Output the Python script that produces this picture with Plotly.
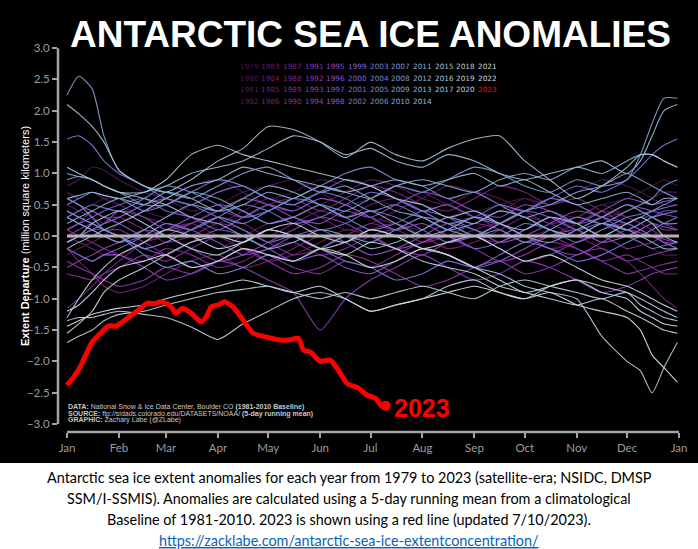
import plotly.graph_objects as go
from plotly.colors import sample_colorscale

# sampling days (day of year) shared by the historical years
days = [0, 7, 15, 22, 31, 46, 59, 74, 90, 105, 120, 135, 151, 166, 181, 196,
        212, 227, 243, 258, 273, 288, 304, 319, 334, 342, 349, 356, 364]

month_ticks = [0, 31, 59, 90, 120, 151, 181, 212, 243, 273, 304, 334, 365]
month_labels = ["Jan", "Feb", "Mar", "Apr", "May", "Jun", "Jul", "Aug", "Sep",
                "Oct", "Nov", "Dec", "Jan"]
y_ticks = [-3.0, -2.5, -2.0, -1.5, -1.0, -0.5, 0.0, 0.5, 1.0, 1.5, 2.0, 2.5, 3.0]
years = list(range(1979, 2023))

# extent anomalies (million km^2)
y1979 = [0.3, 0.4, 0.5, 0.6, 0.6, 0.4, 0.3, 0.5, 0.7, 0.8, 0.6, 0.7, 0.9, 0.8, 0.6, 0.5, 0.7, 0.6, 0.4, 0.5, 0.6, 0.4, 0.3, 0.5, 0.6, 0.7, 0.8, 0.9, 0.8]
y1980 = [0.8, 0.9, 1.1, 1.05, 0.9, 0.7, 0.6, 0.4, 0.5, 0.7, 0.8, 0.9, 0.7, 0.5, 0.6, 0.8, 0.7, 0.5, 0.3, 0.4, 0.6, 0.5, 0.7, 0.9, 0.8, 0.7, 0.6, 0.5, 0.5]
y1981 = [0.5, 0.4, 0.3, 0.2, 0.3, 0.5, 0.6, 0.8, 0.9, 0.7, 0.5, 0.4, 0.6, 0.5, 0.3, 0.2, 0.1, 0.3, 0.4, 0.2, 0.0, 0.1, 0.3, 0.2, 0.0, -0.1, -0.2, -0.3, -0.3]
y1982 = [-0.3, -0.2, -0.1, 0.0, 0.2, 0.4, 0.5, 0.3, 0.2, 0.4, 0.6, 0.5, 0.3, 0.1, 0.2, 0.4, 0.6, 0.8, 0.7, 0.5, 0.4, 0.6, 0.5, 0.3, 0.4, 0.5, 0.6, 0.7, 0.7]
y1983 = [0.7, 0.6, 0.7, 0.6, 0.5, 0.3, 0.2, 0.0, -0.2, 0.0, 0.2, 0.3, 0.5, 0.7, 0.9, 0.8, 0.6, 0.5, 0.7, 0.6, 0.4, 0.2, 0.3, 0.5, 0.3, 0.2, 0.1, 0.0, 0.0]
y1984 = [0.0, -0.1, -0.2, -0.3, -0.3, -0.1, 0.1, 0.2, 0.0, -0.2, -0.4, -0.3, -0.1, 0.1, 0.0, -0.2, -0.3, -0.1, 0.1, 0.2, 0.0, -0.2, -0.1, 0.1, 0.2, 0.1, 0.0, -0.1, -0.1]
y1985 = [-0.1, 0.0, 0.1, 0.1, 0.0, -0.2, -0.1, 0.1, 0.3, 0.2, 0.0, 0.2, 0.4, 0.3, 0.5, 0.6, 0.4, 0.2, 0.3, 0.1, -0.1, 0.0, 0.2, 0.4, 0.3, 0.2, 0.1, -0.1, -0.2]
y1986 = [-0.2, -0.4, -0.6, -0.8, -0.9, -0.8, -0.6, -0.4, -0.3, -0.5, -0.4, -0.2, 0.0, -0.1, 0.1, 0.2, 0.0, -0.2, -0.1, 0.1, 0.3, 0.2, 0.0, -0.2, -0.4, -0.6, -0.8, -1.0, -1.15]
y1987 = [-1.15, -1.0, -0.8, -0.6, -0.4, -0.1, 0.0, 0.2, 0.4, 0.3, 0.5, 0.6, 0.4, 0.6, 0.8, 0.7, 0.5, 0.4, 0.6, 0.8, 0.7, 0.5, 0.6, 0.4, 0.2, 0.3, 0.3, 0.2, 0.1]
y1988 = [0.1, 0.2, 0.4, 0.3, 0.3, 0.1, -0.1, 0.0, 0.2, 0.1, -0.1, -0.3, -0.2, 0.0, 0.2, 0.1, 0.3, 0.2, 0.0, -0.1, 0.1, 0.3, 0.1, -0.1, 0.0, 0.1, 0.2, 0.1, 0.1]
y1989 = [0.1, 0.0, -0.1, -0.2, -0.3, -0.4, -0.2, -0.3, -0.5, -0.4, -0.2, -0.1, -0.3, -0.2, 0.0, 0.1, -0.1, 0.0, 0.2, 0.1, -0.1, 0.0, -0.2, -0.4, -0.3, -0.4, -0.5, -0.6, -0.6]
y1990 = [-0.6, -0.65, -0.7, -0.6, -0.5, -0.3, -0.4, -0.2, 0.0, -0.1, 0.1, 0.0, -0.2, -0.1, 0.0, -0.2, -0.3, -0.1, 0.0, -0.2, -0.4, -0.3, -0.1, 0.0, -0.2, -0.15, -0.1, 0.0, 0.0]
y1991 = [0.0, 0.1, 0.2, 0.1, 0.1, -0.1, -0.3, -0.5, -0.4, -0.2, -0.3, -0.5, -0.6, -0.4, -0.5, -0.3, -0.1, 0.0, -0.2, -0.4, -0.3, -0.1, -0.2, -0.4, -0.6, -0.55, -0.5, -0.45, -0.4]
y1992 = [-0.4, -0.5, -0.6, -0.7, -0.8, -0.7, -0.5, -0.6, -0.4, -0.2, -0.4, -0.6, -0.5, -0.3, -0.4, -0.6, -0.8, -0.7, -0.5, -0.4, -0.6, -0.5, -0.3, -0.2, -0.4, -0.35, -0.3, -0.25, -0.2]
y1993 = [-0.2, -0.3, -0.4, -0.3, -0.3, -0.5, -0.7, -0.6, -0.4, -0.5, -0.7, -0.9, -1.5, -1.0, -0.7, -0.5, -0.3, -0.5, -0.7, -0.6, -0.4, -0.5, -0.7, -0.9, -0.8, -0.7, -0.6, -0.55, -0.5]
y1994 = [-0.5, -0.4, -0.3, -0.2, -0.1, 0.1, 0.0, -0.2, -0.4, -0.3, -0.1, 0.1, 0.3, 0.2, 0.0, -0.2, -0.1, 0.1, 0.3, 0.2, 0.0, -0.2, -0.3, -0.1, 0.1, 0.05, 0.0, -0.05, -0.1]
y1995 = [-0.1, 0.0, 0.1, 0.2, 0.4, 0.3, 0.1, 0.2, 0.4, 0.6, 0.5, 0.3, 0.2, 0.4, 0.3, 0.5, 0.7, 0.6, 0.4, 0.3, 0.5, 0.4, 0.2, 0.3, 0.5, 0.45, 0.4, 0.35, 0.3]
y1996 = [0.3, 0.2, 0.1, 0.0, -0.1, 0.0, 0.2, 0.1, -0.1, -0.3, -0.2, 0.0, 0.1, -0.1, -0.3, -0.2, 0.0, 0.2, 0.1, -0.1, 0.0, 0.2, 0.4, 0.3, 0.1, 0.2, 0.3, 0.4, 0.4]
y1997 = [0.4, 0.3, 0.2, 0.1, 0.0, -0.2, -0.3, -0.1, 0.1, 0.0, -0.2, -0.4, -0.3, -0.5, -0.6, -0.4, -0.2, -0.3, -0.5, -0.4, -0.2, 0.0, 0.1, -0.1, 0.0, 0.1, 0.2, 0.15, 0.1]
y1998 = [0.1, 0.2, 0.3, 0.4, 0.5, 0.6, 0.4, 0.3, 0.1, 0.3, 0.5, 0.4, 0.6, 0.5, 0.3, 0.1, 0.2, 0.0, -0.2, -0.1, 0.1, 0.3, 0.2, 0.4, 0.6, 0.55, 0.5, 0.55, 0.6]
y1999 = [0.6, 0.5, 0.4, 0.3, 0.2, 0.0, 0.1, 0.3, 0.5, 0.4, 0.2, 0.3, 0.1, 0.2, 0.4, 0.3, 0.1, -0.1, 0.0, 0.2, 0.4, 0.3, 0.1, 0.2, 0.0, -0.1, -0.2, -0.15, -0.1]
y2000 = [-0.1, 0.0, 0.1, 0.2, 0.3, 0.5, 0.6, 0.5, 0.7, 0.8, 0.6, 0.5, 0.7, 0.9, 0.8, 0.6, 0.4, 0.5, 0.3, 0.2, 0.4, 0.6, 0.5, 0.3, 0.2, 0.1, 0.0, -0.1, -0.2]
y2001 = [-0.2, -0.3, -0.4, -0.3, -0.2, 0.0, 0.2, 0.1, 0.3, 0.5, 0.4, 0.2, 0.3, 0.5, 0.7, 0.6, 0.4, 0.2, 0.3, 0.5, 0.4, 0.6, 0.8, 0.7, 0.9, 1.1, 1.3, 1.45, 1.55]
y2002 = [1.55, 1.6, 1.45, 1.2, 1.0, 0.8, 0.6, 0.5, 0.3, 0.1, -0.1, 0.0, -0.2, -0.4, -0.5, -0.7, -0.6, -0.4, -0.5, -0.3, -0.1, -0.2, -0.4, -0.3, -0.1, 0.0, 0.1, 0.2, 0.3]
y2003 = [0.3, 0.4, 0.5, 0.45, 0.4, 0.6, 0.8, 0.7, 0.5, 0.3, 0.4, 0.6, 0.5, 0.3, 0.1, 0.2, 0.4, 0.3, 0.1, 0.0, 0.2, 0.1, -0.1, 0.1, 0.3, 0.35, 0.4, 0.45, 0.5]
y2004 = [0.5, 0.6, 0.7, 0.65, 0.6, 0.4, 0.5, 0.7, 0.9, 0.8, 0.6, 0.5, 0.7, 0.6, 0.4, 0.5, 0.3, 0.1, 0.2, 0.4, 0.3, 0.1, 0.0, 0.2, 0.1, 0.2, 0.3, 0.35, 0.4]
y2005 = [0.4, 0.3, 0.2, 0.1, 0.0, -0.2, -0.1, 0.1, 0.3, 0.2, 0.4, 0.6, 0.8, 1.0, 1.1, 0.9, 0.8, 0.6, 0.7, 0.5, 0.3, 0.4, 0.2, 0.0, 0.2, 0.3, 0.4, 0.5, 0.6]
y2006 = [0.6, 0.5, 0.3, 0.1, 0.0, -0.3, -0.5, -0.4, -0.6, -0.5, -0.3, -0.4, -0.2, 0.0, -0.1, 0.1, 0.3, 0.2, 0.0, 0.1, -0.1, 0.1, 0.3, 0.2, 0.4, 0.5, 0.6, 0.8, 0.9]
y2007 = [0.9, 0.95, 0.9, 0.8, 0.7, 0.5, 0.5, 0.7, 0.6, 0.4, 0.2, 0.3, 0.5, 0.4, 0.6, 0.8, 0.7, 0.9, 1.1, 1.0, 0.8, 0.7, 0.9, 0.8, 0.9, 1.3, 1.8, 2.2, 2.2]
y2008 = [2.25, 2.55, 2.35, 1.6, 1.05, 0.8, 0.7, 0.6, 0.8, 1.0, 1.1, 0.9, 0.7, 0.8, 0.6, 0.4, 0.3, 0.1, 0.0, 0.2, 0.4, 0.5, 0.7, 0.8, 1.0, 0.9, 0.8, 0.7, 0.6]
y2009 = [0.3, 0.2, 0.1, 0.0, -0.1, 0.1, 0.3, 0.5, 0.4, 0.6, 0.8, 0.7, 0.5, 0.3, 0.4, 0.2, 0.0, 0.1, 0.3, 0.2, 0.0, -0.1, 0.1, 0.3, 0.5, 0.4, 0.3, 0.2, 0.2]
y2010 = [0.2, 0.3, 0.4, 0.5, 0.6, 0.5, 0.7, 0.6, 0.4, 0.5, 0.7, 0.6, 0.8, 0.7, 0.6, 0.8, 0.9, 0.8, 0.7, 0.9, 1.0, 0.9, 1.1, 1.0, 1.2, 1.3, 1.3, 1.2, 1.1]
y2011 = [1.0, 0.95, 0.9, 0.8, 0.7, 0.6, 0.5, 0.3, 0.2, 0.0, -0.2, -0.1, 0.1, 0.0, -0.2, -0.1, 0.1, 0.3, 0.2, 0.4, 0.3, 0.1, 0.0, 0.2, 0.1, 0.0, -0.1, -0.2, -0.2]
y2012 = [-0.2, -0.1, 0.0, 0.1, 0.2, 0.4, 0.6, 0.8, 0.9, 1.1, 1.0, 0.9, 0.8, 0.7, 0.8, 0.9, 0.8, 0.9, 1.0, 0.8, 0.9, 0.7, 0.5, 0.6, 0.7, 0.6, 0.5, 0.6, 0.6]
y2013 = [0.6, 0.65, 0.7, 0.65, 0.6, 0.7, 0.8, 1.0, 1.1, 1.2, 1.4, 1.6, 1.5, 1.3, 1.4, 1.2, 1.1, 1.3, 1.2, 1.0, 0.9, 1.0, 1.1, 1.2, 1.0, 1.2, 1.6, 2.0, 2.1]
y2014 = [2.1, 1.95, 1.75, 1.5, 1.05, 0.8, 0.7, 0.9, 1.2, 1.4, 1.75, 1.7, 1.5, 1.25, 1.5, 1.3, 1.2, 1.4, 1.55, 1.6, 1.2, 0.9, 0.6, 0.8, 1.1, 1.3, 1.3, 1.2, 1.1]
y2015 = [1.1, 1.0, 0.9, 0.8, 0.7, 0.7, 0.9, 1.3, 1.45, 1.3, 1.2, 1.1, 1.0, 0.9, 0.8, 0.6, 0.5, 0.3, 0.4, 0.2, 0.1, 0.3, 0.2, 0.0, 0.2, 0.3, 0.2, 0.0, -0.1]
y2016 = [-0.1, 0.0, 0.2, 0.3, 0.4, 0.2, 0.0, -0.2, -0.3, -0.1, 0.1, 0.0, -0.2, -0.1, 0.1, 0.0, -0.2, -0.3, -0.5, -0.6, -0.8, -0.9, -1.0, -1.6, -2.0, -2.15, -2.5, -2.1, -1.7]
y2017 = [-1.7, -1.6, -1.5, -1.35, -1.25, -1.2, -1.1, -1.0, -0.9, -0.85, -0.8, -0.9, -1.0, -0.9, -1.0, -0.9, -0.8, -0.9, -1.0, -0.8, -0.7, -0.8, -0.9, -1.0, -0.9, -1.1, -1.2, -1.3, -1.35]
y2018 = [-1.35, -1.3, -1.3, -1.25, -1.2, -1.25, -1.3, -1.45, -1.65, -1.4, -1.2, -1.0, -0.9, -1.0, -1.2, -1.1, -1.0, -0.8, -0.7, -0.9, -1.0, -0.8, -0.7, -0.8, -0.9, -1.0, -1.1, -1.2, -1.3]
y2019 = [-1.3, -1.0, -0.7, -0.5, -0.3, -0.1, 0.1, 0.0, -0.2, -0.1, 0.1, 0.0, -0.2, -0.3, -0.1, -0.2, -0.4, -0.5, -0.6, -0.8, -0.9, -1.0, -1.1, -1.0, -1.2, -1.3, -1.4, -1.5, -1.55]
y2020 = [-1.55, -1.4, -1.2, -0.9, -0.7, -0.5, -0.3, -0.1, 0.0, -0.1, 0.1, 0.2, 0.0, -0.1, 0.1, 0.0, -0.2, -0.1, 0.0, -0.2, -0.4, -0.3, -0.5, -0.7, -0.8, -0.9, -1.0, -1.1, -1.2]
y2021 = [-1.2, -1.1, -0.9, -0.7, -0.5, -0.4, -0.3, -0.5, -0.4, -0.2, -0.3, -0.4, -0.2, -0.3, -0.5, -0.4, -0.2, -0.3, -0.5, -0.7, -0.9, -0.8, -0.7, -0.9, -1.0, -1.2, -1.3, -1.4, -1.44]
y2022 = [-1.44, -1.35, -1.25, -1.2, -1.15, -1.1, -1.0, -0.9, -0.8, -0.7, -0.8, -0.9, -0.8, -1.0, -1.2, -1.1, -1.0, -0.9, -0.8, -0.9, -1.0, -0.9, -1.1, -1.2, -1.3, -1.5, -1.9, -2.1, -2.33]

history = [y1979, y1980, y1981, y1982, y1983, y1984, y1985, y1986, y1987, y1988,
           y1989, y1990, y1991, y1992, y1993, y1994, y1995, y1996, y1997, y1998,
           y1999, y2000, y2001, y2002, y2003, y2004, y2005, y2006, y2007, y2008,
           y2009, y2010, y2011, y2012, y2013, y2014, y2015, y2016, y2017, y2018,
           y2019, y2020, y2021, y2022]

# 2023 up to 10 July
days_2023 = [0, 4, 8, 12, 15, 20, 25, 29, 32, 36, 40, 44, 48, 52, 56, 61, 65, 69, 74, 80,
             83, 86, 90, 94, 99, 105, 111, 119, 127, 132, 138, 141, 145, 151, 157, 162,
             167, 174, 179, 184, 188, 190]
ice_2023 = [-2.38, -2.25, -2.08, -1.85, -1.69, -1.55, -1.43, -1.44, -1.39, -1.31,
            -1.23, -1.15, -1.07, -1.08, -1.05, -1.10, -1.23, -1.15, -1.23, -1.37,
            -1.29, -1.13, -1.10, -1.05, -1.13, -1.34, -1.55, -1.61, -1.66, -1.66,
            -1.63, -1.82, -1.85, -2.0, -1.98, -2.15, -2.35, -2.43, -2.54, -2.59,
            -2.72, -2.71]

# dark plum -> violet -> periwinkle -> pale blue-grey
color_stops = ["#48174a", "#661c68", "#7a2584", "#8a33a4", "#9046c0", "#8560d4",
               "#6f7bd6", "#7896cf", "#8aaccd", "#a0bed3", "#b8cdd8", "#d0dbe0"]

# pixel geometry of the original
W, H = 698, 549
L, R, T, B = 58, 19, 48, 117
PW, PH = W - L - R, H - T - B


def px(x):
    return (x - L) / PW


def py(y):
    return (H - B - y) / PH


scale = [[i / (len(color_stops) - 1), c] for i, c in enumerate(color_stops)]
colors = sample_colorscale(scale, [(yr - 1979) / 43 for yr in years])

fig = go.Figure()

for yr, vals, col in zip(years, history, colors):
    fig.add_trace(go.Scatter(x=days, y=vals, mode="lines", name=str(yr),
                             line=dict(color=col, width=1.1, shape="spline", smoothing=0.6),
                             opacity=0.95, hoverinfo="skip"))

fig.add_trace(go.Scatter(x=days_2023, y=ice_2023, mode="lines", name="2023",
                         line=dict(color="#ff0000", width=5, shape="spline", smoothing=0.6)))
fig.add_trace(go.Scatter(x=days_2023[-1:], y=ice_2023[-1:], mode="markers",
                         marker=dict(color="#ff0000", size=10)))

grey = "#a3a3a3"
shapes = [
    # caption panel
    dict(type="rect", xref="paper", yref="paper", x0=px(0), x1=px(W), y0=py(H), y1=py(463),
         fillcolor="white", line=dict(width=0), layer="below"),
    # zero line
    dict(type="line", xref="x", yref="y", x0=0, x1=365, y0=0, y1=0,
         line=dict(color="#b4b4b4", width=3), layer="above"),
    # detached axis lines
    dict(type="line", xref="paper", yref="y", x0=0, x1=0, y0=-3, y1=3,
         line=dict(color=grey, width=2.5)),
    dict(type="line", xref="x", yref="paper", x0=0, x1=365, y0=0, y1=0,
         line=dict(color=grey, width=2.5)),
]

annotations = [
    dict(text="ANTARCTIC SEA ICE ANOMALIES", x=px(370), y=py(34), xref="paper", yref="paper",
         showarrow=False, xanchor="center", yanchor="middle",
         font=dict(family="Liberation Sans", size=37, color="white", weight="bold")),
    dict(text="<b>Extent Departure</b> (million square kilometers)", textangle=-90,
         x=px(17), y=py(236), xref="paper", yref="paper", showarrow=False,
         font=dict(family="Liberation Sans", size=11, color="white")),
    dict(text="2023", x=days_2023[-1], y=ice_2023[-1], xref="x", yref="y", showarrow=False,
         xanchor="left", yanchor="middle", xshift=6, yshift=-2,
         font=dict(family="Liberation Sans", size=25, color="#ff0000", weight="bold")),
]

credit_lines = [
    "<b>DATA:</b> National Snow &amp; Ice Data Center, Boulder CO <b>(1981-2010 Baseline)</b>",
    "<b>SOURCE:</b> ftp://sidads.colorado.edu/DATASETS/NOAA/ <b>(5-day running mean)</b>",
    "<b>GRAPHIC:</b> Zachary Labe (@ZLabe)",
]
for i, line in enumerate(credit_lines):
    annotations.append(dict(text=line, x=px(66), y=py(407 + 6.5 * i), xref="paper", yref="paper",
                            showarrow=False, xanchor="left", yanchor="middle",
                            font=dict(family="Liberation Sans", size=7, color="#c8c8c8")))

# year legend, matplotlib style columns (4 rows, last three columns 3 rows)
all_years = years + [2023]
for i, yr in enumerate(all_years):
    if i < 36:
        col, row = i // 4, i % 4
    else:
        col, row = 9 + (i - 36) // 3, (i - 36) % 3
    col_color = "#ff0000" if yr == 2023 else colors[i]
    annotations.append(dict(text=str(yr), x=px(237.7 + 21.67 * col), y=py(66.5 + 11.6 * row),
                            xref="paper", yref="paper", showarrow=False,
                            xanchor="left", yanchor="middle",
                            font=dict(family="DejaVu Sans", size=7.3, color=col_color)))

caption = [
    "Antarctic sea ice extent anomalies for each year from 1979 to 2023 (satellite-era; NSIDC, DMSP",
    "SSM/I-SSMIS). Anomalies are calculated using a 5-day running mean from a climatological",
    "Baseline of 1981-2010. 2023 is shown using a red line (updated 7/10/2023).",
    "<u>https://zacklabe.com/antarctic-sea-ice-extentconcentration/</u>",
]
for i, line in enumerate(caption):
    annotations.append(dict(text=line, x=px(349), y=py(477 + 21.3 * i), xref="paper", yref="paper",
                            showarrow=False, xanchor="center", yanchor="middle",
                            font=dict(family="Lato", size=14.4, color="#0563c1" if i == 3 else "black")))

fig.update_layout(
    width=W, height=H, autosize=False,
    margin=dict(l=L, r=R, t=T, b=B, pad=0),
    paper_bgcolor="black", plot_bgcolor="black",
    showlegend=False,
    shapes=shapes, annotations=annotations,
)
fig.update_xaxes(range=[-5.4, 365], tickvals=month_ticks, ticktext=month_labels,
                 ticks="outside", ticklen=5, tickwidth=2, tickcolor=grey,
                 tickfont=dict(family="Lato", size=11.5, color="#9c9c9c"),
                 showgrid=False, zeroline=False, showline=False)
fig.update_yaxes(range=[-3.127, 3.002], tickvals=y_ticks, tickformat=".1f",
                 ticks="outside", ticklen=5, tickwidth=2, tickcolor=grey,
                 tickfont=dict(family="Lato", size=11.5, color="#9c9c9c"),
                 showgrid=False, zeroline=False, showline=False)

# page body has a default 8px margin; drop it so the figure fills the window
fig.write_html("out.html", config={"displayModeBar": False},
               post_script="document.body.style.margin='0';")
